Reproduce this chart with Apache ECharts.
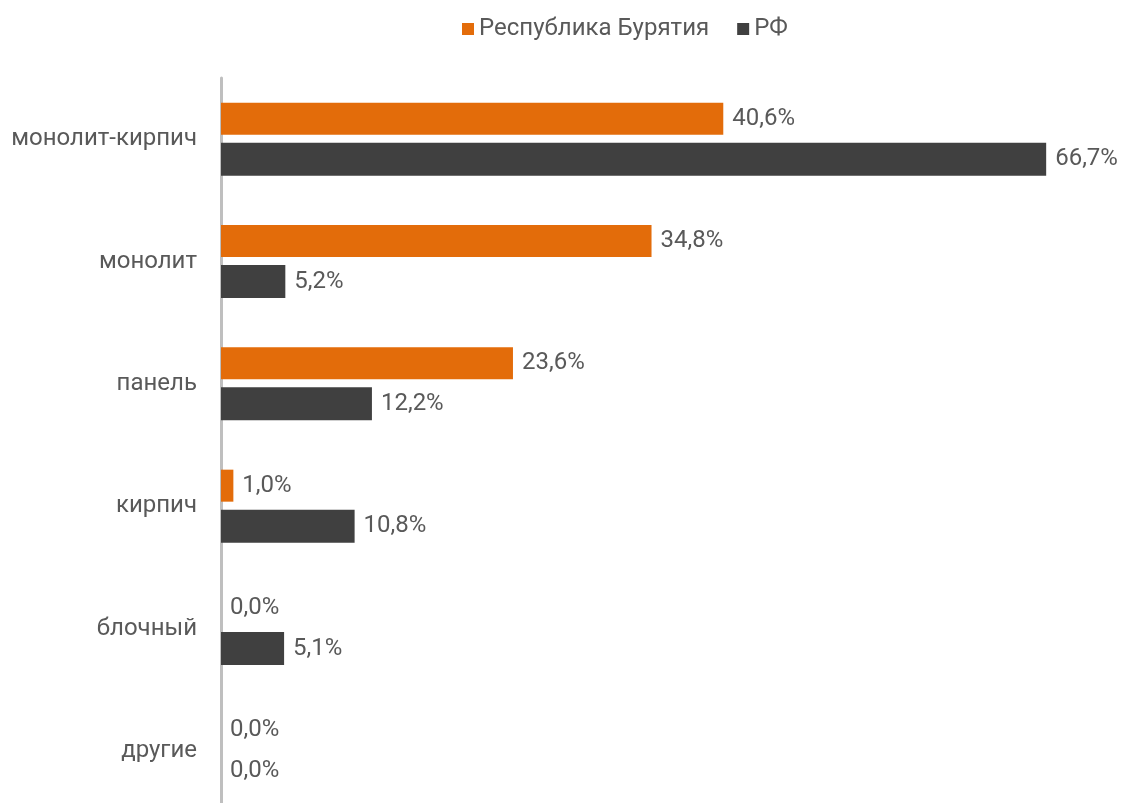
<!DOCTYPE html>
<html><head><meta charset="utf-8">
<script src="https://cdn.jsdelivr.net/npm/echarts@6/dist/echarts.min.js"></script>
<style>html,body{margin:0;padding:0;background:#fff;overflow:hidden}#c{width:1124px;height:812px}</style>
</head><body><div id="c"></div>
<script>
const categories = ['монолит-кирпич','монолит','панель','кирпич','блочный','другие'];
const seriesNames = ['Республика Бурятия','РФ'];
const buryatia = [40.6, 34.8, 23.6, 1.0, 0.0, 0.0];
const rf = [66.7, 5.2, 12.2, 10.8, 5.1, 0.0];
const colors = ['#E36C0A','#404040'];
const fmt = v => v.toFixed(1).replace('.', ',') + '%';
const chart = echarts.init(document.getElementById('c'));
const labelStyle = {show:true, position:'right', distance:9, color:'#595959', fontSize:24, fontFamily:'Roboto',
  formatter: p => fmt(p.value)};
chart.setOption({
  animation:false,
  textStyle:{fontFamily:'Roboto'},
  legend:{left:457, top:12, icon:'rect', itemWidth:12, itemHeight:12, itemGap:28, itemStyle:{borderWidth:0},
    textStyle:{color:'#595959', fontSize:24, fontFamily:'Roboto'}, data:seriesNames},
  grid:{left:221, top:78, width:866, bottom:0, containLabel:false},
  xAxis:{type:'value', min:0, max:70, show:false},
  yAxis:{type:'category', inverse:true, data:categories,
    axisLine:{show:true, lineStyle:{color:'#BFBFBF', width:3}},
    axisTick:{show:false},
    axisLabel:{color:'#595959', fontSize:24, fontFamily:'Roboto', margin:24}},
  series:[
    {name:seriesNames[0], type:'bar', data:buryatia, barWidth:32, barGap:'25%', itemStyle:{color:colors[0]}, label:labelStyle},
    {name:seriesNames[1], type:'bar', data:rf, barWidth:33, itemStyle:{color:colors[1]}, label:labelStyle}
  ]
});
</script></body></html>
